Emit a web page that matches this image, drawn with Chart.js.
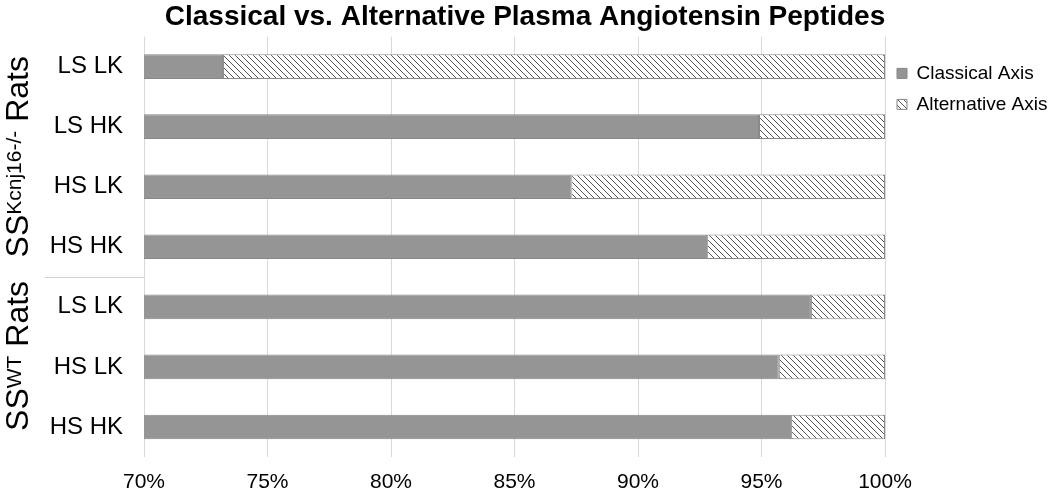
<!DOCTYPE html>
<html>
<head>
<meta charset="utf-8">
<script src="https://cdn.jsdelivr.net/npm/chart.js@4/dist/chart.umd.min.js"></script>
<style>
  html, body { margin: 0; padding: 0; background: #fff; }
  #wrap { width: 1050px; height: 497px; }
</style>
</head>
<body>
<div id="wrap"><canvas id="plasmaChart"></canvas></div>
<script>
const categories = ['LS LK', 'LS HK', 'HS LK', 'HS HK', 'LS LK', 'HS LK', 'HS HK'];
const classicalAxis = [73.2, 94.9, 87.3, 92.8, 97.0, 95.7, 96.2];
const alternativeAxis = [26.8, 5.1, 12.7, 7.2, 3.0, 4.3, 3.8];
const xTicks = [70, 75, 80, 85, 90, 95, 100];
const groups = [
    { main: 'SS', sup: 'Kcnj16-/-', tail: ' Rats', first: 0, last: 3 },
    { main: 'SS', sup: 'WT', tail: ' Rats', first: 4, last: 6 }
];

Chart.defaults.font.family = "'Liberation Sans', Arial, sans-serif";
Chart.defaults.color = '#000';

// diagonal hatch for the alternative axis
function makeHatch() {
    const s = 6;
    const c = document.createElement('canvas');
    c.width = s; c.height = s;
    const g = c.getContext('2d');
    g.fillStyle = '#fff';
    g.fillRect(0, 0, s, s);
    g.strokeStyle = '#555';
    g.lineWidth = 1;
    for (let k = -1; k <= 1; k++) {
        g.beginPath();
        g.moveTo(-1, -1 + k * s);
        g.lineTo(s + 1, s + 1 + k * s);
        g.stroke();
    }
    return g.createPattern(c, 'repeat');
}
const hatch = makeHatch();

// two-level category labels: rotated group names + separator
const groupLabelPlugin = {
    id: 'groupLabels',
    afterDraw(chart) {
        const ctx = chart.ctx;
        const y = chart.scales.y;
        const area = chart.chartArea;
        ctx.save();
        ctx.strokeStyle = '#d0d0d0';
        ctx.lineWidth = 1;
        for (let i = 0; i < groups.length - 1; i++) {
            const yy = Math.round((y.getPixelForValue(groups[i].last) + y.getPixelForValue(groups[i + 1].first)) / 2) + 0.5;
            ctx.beginPath();
            ctx.moveTo(45, yy);
            ctx.lineTo(area.left, yy);
            ctx.stroke();
        }
        const nudge = [0, -11];
        const big = "32px 'Liberation Sans', Arial, sans-serif";
        const small = "21px 'Liberation Sans', Arial, sans-serif";
        groups.forEach((g, i) => {
            const cy = (y.getPixelForValue(g.first) + y.getPixelForValue(g.last)) / 2 + nudge[i];
            ctx.font = big;
            const w1 = ctx.measureText(g.main).width;
            const w3 = ctx.measureText(g.tail).width;
            ctx.font = small;
            const w2 = ctx.measureText(g.sup).width;
            ctx.save();
            ctx.translate(17, cy);
            ctx.rotate(-Math.PI / 2);
            ctx.fillStyle = '#000';
            ctx.textBaseline = 'alphabetic';
            ctx.textAlign = 'left';
            let x = -(w1 + w2 + w3) / 2;
            ctx.font = big;
            ctx.fillText(g.main, x, 11);
            x += w1;
            ctx.font = small;
            ctx.fillText(g.sup, x, 4);
            x += w2;
            ctx.font = big;
            ctx.fillText(g.tail, x, 11);
            ctx.restore();
        });
        ctx.restore();
    }
};

const ctx = document.getElementById('plasmaChart').getContext('2d');
const plasmaChart = new Chart(ctx, {
    type: 'bar',
    data: {
        labels: categories,
        datasets: [{
            label: 'Classical Axis',
            data: classicalAxis,
            backgroundColor: '#959595',
            borderColor: '#878787',
            borderWidth: 1,
            borderSkipped: false
        }, {
            label: 'Alternative Axis',
            data: alternativeAxis,
            backgroundColor: hatch,
            borderColor: '#878787',
            borderWidth: 1,
            borderSkipped: false
        }]
    },
    options: {
        indexAxis: 'y',
        responsive: true,
        maintainAspectRatio: false,
        animation: false,
        categoryPercentage: 1,
        barPercentage: 0.41,
        layout: { padding: { left: 0, right: 0, top: 0, bottom: -10 } },
        plugins: {
            legend: {
                position: 'right',
                align: 'start',
                maxWidth: 165,
                title: { display: true, text: ' ', font: { size: 12 }, padding: { top: 37.5, bottom: 0 } },
                labels: {
                    boxWidth: 10,
                    boxHeight: 10,
                    padding: 12,
                    color: '#000',
                    font: { size: 19 }
                }
            },
            tooltip: { enabled: false },
            title: {
                display: true,
                text: 'Classical vs. Alternative Plasma Angiotensin Peptides',
                color: '#000',
                font: { size: 28, weight: 'bold' },
                padding: { top: 0, bottom: 3 }
            }
        },
        scales: {
            x: {
                stacked: true,
                min: 70,
                max: 100,
                afterBuildTicks: (scale) => { scale.ticks = xTicks.map(v => ({ value: v })); },
                ticks: {
                    callback: (v) => v + '%',
                    font: { size: 21 },
                    padding: 12.4,
                    maxRotation: 0
                },
                grid: { color: '#d9d9d9', drawTicks: false },
                border: { display: false }
            },
            y: {
                stacked: true,
                afterFit: (scale) => { scale.width = 144; },
                ticks: { font: { size: 24 }, padding: 21 },
                grid: { display: false, drawTicks: false },
                border: { display: false }
            }
        }
    },
    plugins: [groupLabelPlugin]
});
</script>
</body>
</html>
